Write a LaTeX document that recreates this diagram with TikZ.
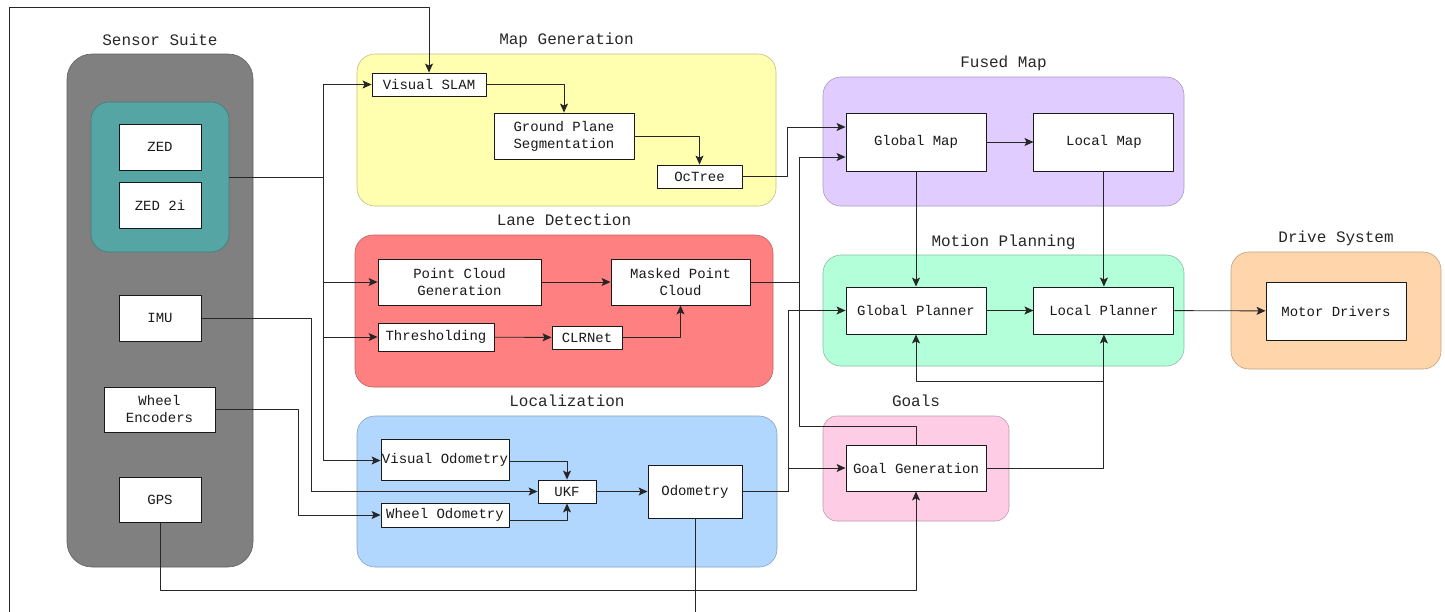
\documentclass[tikz,border=0pt]{standalone}
\usepackage{fontspec}
\setmainfont{Liberation Mono}
\usepackage{tikz}
\usetikzlibrary{arrows.meta, positioning}
\definecolor{suitegray}{HTML}{808080}
\definecolor{camteal}{HTML}{56A5A5}
\definecolor{mapyellow}{HTML}{FFFFAF}
\definecolor{lanered}{HTML}{FF8080}
\definecolor{locblue}{HTML}{B1D7FF}
\definecolor{fusedpurple}{HTML}{E1CCFF}
\definecolor{plangreen}{HTML}{B3FFD9}
\definecolor{driveorange}{HTML}{FFD6AB}
\definecolor{goalpink}{HTML}{FFCCE6}

\begin{document}
\begin{tikzpicture}[>={Stealth[length=9pt,width=8pt,inset=2pt]}, line join=bevel, x=1pt, y=-1pt,
        group/.style={rounded corners=18pt, draw=#1!75!black, fill=#1, line width=.6pt, inner sep=0pt},
        boxsize/.style 2 args={minimum width=#1pt, minimum height=#2pt},
        block/.style={draw=black!90, fill=white, line width=.9pt, inner sep=0pt, align=center,
            font=\fontsize{14}{17}\selectfont, text=black!90},
        heading/.style={anchor=base, font=\fontsize{16}{19}\selectfont, text=black!85},
        wire/.style={line width=.9pt, draw=black!85}]
    \useasboundingbox (0,0) rectangle (1445,611);

    % groups
    \node[group=suitegray, rounded corners=25pt, boxsize={186}{513}] (sensors) at (160,310.5) {};
    \node[group=camteal, boxsize={138}{150}] (cams) at (160,177) {};
    \node[group=mapyellow, boxsize={419}{152}] (mapgen) at (566.5,130) {};
    \node[group=lanered, boxsize={418}{152}] (lanes) at (564,311) {};
    \node[group=locblue, boxsize={420}{151}] (local) at (567,491.5) {};
    \node[group=fusedpurple, boxsize={361}{129}] (fused) at (1003.5,141.5) {};
    \node[group=plangreen, boxsize={361}{111}] (motion) at (1003.5,310.5) {};
    \node[group=driveorange, boxsize={210}{117}] (drive) at (1336,310.5) {};
    \node[group=goalpink, rounded corners=14pt, boxsize={186}{105}] (goals) at (916,468.5) {};

    \node[heading] at ([yshift=8pt]sensors.north) {Sensor Suite};
    \node[heading] at ([yshift=9pt]mapgen.north) {Map Generation};
    \node[heading] at ([yshift=9pt]lanes.north) {Lane Detection};
    \node[heading] at ([yshift=9pt]local.north) {Localization};
    \node[heading] at ([yshift=9pt]fused.north) {Fused Map};
    \node[heading] at ([yshift=8pt]motion.north) {Motion Planning};
    \node[heading] at ([yshift=9pt]drive.north) {Drive System};
    \node[heading] at ([yshift=9pt]goals.north) {Goals};

    % sensor suite
    \node[block, boxsize={82}{46}] (zed) at (160,147) {ZED};
    \node[block, boxsize={82}{46}, below=12pt of zed] (zedtwo) {ZED 2i};
    \node[block, boxsize={82}{46}] (imu) at (160,318) {IMU};
    \node[block, boxsize={111}{45}] (wenc) at (159.5,409.5) {Wheel\\Encoders};
    \node[block, boxsize={82}{45}] (gps) at (160,499.5) {GPS};

    % map generation
    \node[block, boxsize={114}{23}] (vslam) at (429,84.5) {Visual SLAM};
    \node[block, boxsize={140}{46}] (ground) at (564,136) {Ground Plane\\Segmentation};
    \node[block, boxsize={85}{23}] (octree) at (699.5,176.5) {OcTree};

    % lane detection
    \node[block, boxsize={163}{46}] (pcgen) at (459.5,282) {Point Cloud\\Generation};
    \node[block, boxsize={139}{46}] (masked) at (680.5,282) {Masked Point\\Cloud};
    \node[block, boxsize={116}{28}] (thresh) at (436,337) {Thresholding};
    \node[block, boxsize={70}{23}] (clrnet) at (587,337.5) {CLRNet};

    % localization
    \node[block, boxsize={128}{41}] (vodom) at (445,459.5) {Visual Odometry};
    \node[block, boxsize={58}{23}] (ukf) at (567,491.5) {UKF};
    \node[block, boxsize={128}{24}] (wodom) at (445,515) {Wheel Odometry};
    \node[block, boxsize={94}{53}] (odom) at (695,491.5) {Odometry};

    % fused map, planning, drive, goals
    \node[block, boxsize={140}{58}] (gmap) at (916,142) {Global Map};
    \node[block, boxsize={140}{58}, right=47pt of gmap] (lmap) {Local Map};
    \node[block, boxsize={140}{47}] (gplan) at (916,310.5) {Global Planner};
    \node[block, boxsize={140}{47}, right=47pt of gplan] (lplan) {Local Planner};
    \node[block, boxsize={140}{58}] (motor) at (1336,311) {Motor Drivers};
    \node[block, boxsize={140}{46}] (goalgen) at (916,468) {Goal Generation};

    \coordinate (cambus) at (323,177);
    \coordinate (mapbus) at (799,282);
    \coordinate (odombus) at (788,491.5);
    \coordinate (goalbus) at (1103,381);

    % camera feed
    \draw[wire] (cams.east) -- (cambus);
    \draw[wire, ->] (cambus) |- (vslam.west);
    \draw[wire, ->] (cambus) |- (pcgen.west);
    \draw[wire, ->] (cambus) |- (thresh.west);
    \draw[wire, ->] (cambus) |- ([yshift=-1pt]vodom.west);
    \draw[wire, ->] (imu.east) -- ++(110,0) |- (ukf.west);
    \draw[wire, ->] (wenc.east) -- ++(83,0) |- (wodom.west);
    \draw[wire, ->] (gps.south) -- ++(0,68) -| (goalgen.south);
    \draw[wire, ->] (odom.south) -- ++(0,130) -| (9,7) -| (vslam.north);

    % map generation
    \draw[wire, ->] (vslam.east) -| (ground.north);
    \draw[wire, ->] (ground.east) -| (octree.north);
    \draw[wire, ->] (octree.east) -- ++(45,0) |- ([yshift=15pt]gmap.west);

    % lanes
    \draw[wire, ->] (pcgen) -- (masked);
    \draw[wire, ->] (thresh) -- (clrnet);
    \draw[wire, ->] (clrnet.east) -| (masked.south);
    \draw[wire] (masked.east) -- (mapbus);
    \draw[wire, ->] (goalgen.north) -- ++(0,-18) -| (mapbus) |- ([yshift=-15pt]gmap.west);

    % localization
    \draw[wire, ->] ([yshift=-2pt]vodom.east) -| (ukf.north);
    \draw[wire, ->] ([yshift=-5pt]wodom.east) -| (ukf.south);
    \draw[wire, ->] (ukf) -- (odom);
    \draw[wire] (odom.east) -- (odombus);
    \draw[wire, ->] (odombus) |- (gplan.west);
    \draw[wire, ->] (odombus) |- (goalgen.west);

    % planning
    \draw[wire, ->] (gmap) -- (lmap);
    \draw[wire, ->] (gmap) -- (gplan);
    \draw[wire, ->] (lmap) -- (lplan);
    \draw[wire, ->] (gplan) -- (lplan);
    \draw[wire, ->] (lplan) -- (motor);
    \draw[wire, ->] (goalgen.east) -| (lplan.south);
    \draw[wire, ->] (goalbus) -| (gplan.south);
\end{tikzpicture}
\end{document}
